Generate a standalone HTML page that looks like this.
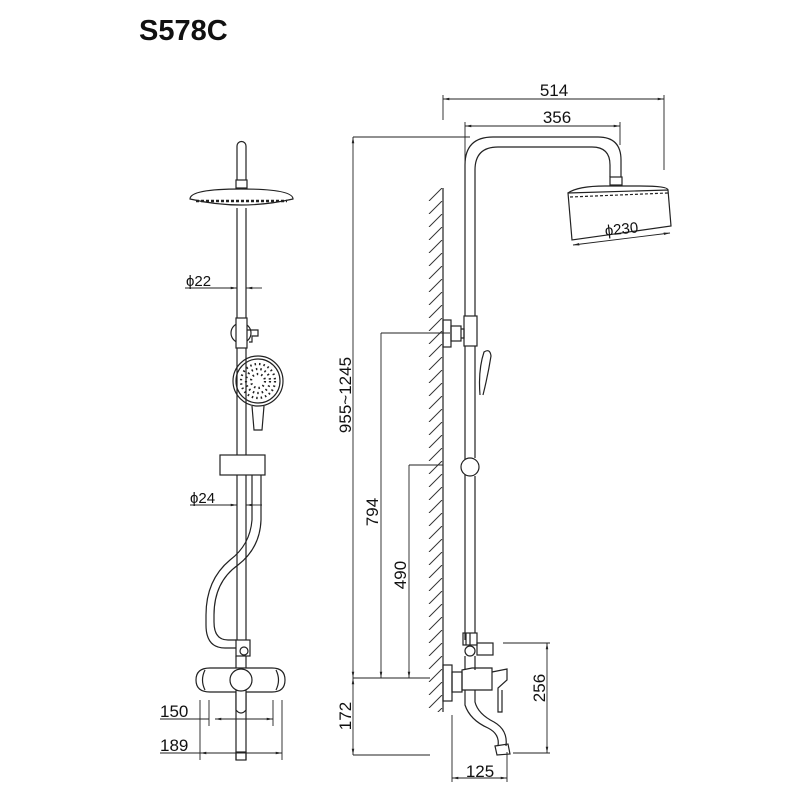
<!DOCTYPE html>
<html><head><style>body{margin:0;background:#fff}svg{display:block}text{font-family:"Liberation Sans",sans-serif;fill:#111}</style></head>
<body>
<svg width="800" height="800" viewBox="0 0 800 800" xmlns="http://www.w3.org/2000/svg">
<defs>
<marker id="a" viewBox="0 0 10 10" refX="10" refY="5" markerWidth="7" markerHeight="7" orient="auto-start-reverse"><path d="M0,3L10,5L0,7z" fill="#222"/></marker>
<pattern id="h" width="15" height="13" patternUnits="userSpaceOnUse" x="428" y="188"><path d="M1,13L14,0" stroke="#333" stroke-width="1"/></pattern>
</defs>
<text x="139" y="40" font-size="29" font-weight="bold">S578C</text>
<g fill="none" stroke="#222" stroke-width="1.2">
<!-- LEFT FIGURE -->
<path d="M237,180 V146 a4.5,4.5 0 0 1 9,0 V180"/>
<rect x="236" y="180" width="11" height="8"/>
<path d="M190,199 Q190,189 241,189 Q293,189 293,199 Q241,211 190,199z"/>
<path d="M196,201 H287" stroke-dasharray="3,2" stroke-width="2.5"/>
<path d="M237,208 V318 M246,208 V318"/>
<circle cx="241" cy="333" r="10"/>
<rect x="236" y="318" width="11" height="30" fill="#fff"/>
<path d="M247,330 H258 V336 H252 V342 H249"/>
<path d="M237,348 V650 M246,348 V455"/>
<circle cx="258" cy="381" r="25"/><circle cx="258" cy="381" r="22"/>
<g stroke-width="2.2" stroke-dasharray="1.5,3"><circle cx="258" cy="381" r="17"/><circle cx="258" cy="381" r="12"/><circle cx="258" cy="381" r="7"/></g>
<path d="M252,406 L254,430 H262 L264,406"/>
<rect x="220" y="455" width="45" height="20" fill="#fff"/>
<path d="M246,475 V650"/>
<path d="M252,475 V520 Q250,545 230,560 Q206,580 206,615 V625 Q206,648 225,648 H236"/>
<path d="M261,475 V520 Q260,548 238,565 Q214,582 214,615 V622 Q214,640 228,640 H236"/>
<rect x="236" y="640" width="14" height="16" fill="#fff"/>
<circle cx="244" cy="651" r="4"/>
<path d="M236,656 V760 M246,656 V760"/>
<path d="M210,668 Q196,668 196,680 Q196,692 210,692 H272 Q285,692 285,680 Q285,668 272,668 Z" fill="#fff"/>
<path d="M205,670 Q200,680 205,690 M276,670 Q281,680 276,690"/>
<path d="M236,690 V710 Q241,716 246,710 V690" fill="#fff"/>
<circle cx="241" cy="680" r="11" fill="#fff"/>
<rect x="236" y="752" width="10" height="8"/>
</g>
<g stroke="#222" stroke-width="0.9" fill="none">
<path d="M185,288 H237" marker-end="url(#a)"/><path d="M262,288 H246" marker-end="url(#a)"/>
<path d="M190,505 H237" marker-end="url(#a)"/><path d="M262,505 H246" marker-end="url(#a)"/>
<path d="M209,700 V726 M273,700 V726 M200,700 V760 M282,700 V760"/>
<path d="M160,719 H209"/><path d="M215,719 H273" marker-start="url(#a)" marker-end="url(#a)"/>
<path d="M160,753 H200"/><path d="M200,753 H282" marker-start="url(#a)" marker-end="url(#a)"/>
</g>
<text x="186" y="286" font-size="15">ϕ22</text>
<text x="190" y="503" font-size="15">ϕ24</text>
<text x="160" y="717" font-size="17">150</text>
<text x="160" y="751" font-size="17">189</text>

<!-- RIGHT FIGURE -->
<rect x="428" y="188" width="15" height="524" fill="url(#h)"/>
<path d="M443,188 V712" stroke="#222" stroke-width="1.2"/>
<g fill="none" stroke="#222" stroke-width="1.2">
<path d="M465,316 V165 Q465,137 493,137 H598 Q621,137 621,160 V177"/>
<path d="M475,316 V170 Q475,147 498,147 H592 Q610,147 610,165 V177"/>
<rect x="610" y="177" width="12" height="8"/>
<path d="M568,193 Q578,186 605,186 H640 Q668,186 668,190" />
<path d="M568,193 L668,190 L671,226 L572,240 Z" fill="#fff"/>
<path d="M570,197 L668,193" stroke-dasharray="3,2"/>
<rect x="443" y="320" width="8" height="27"/>
<rect x="451" y="326" width="10" height="15"/>
<path d="M461,329 H464 V338 H461"/>
<rect x="464" y="316" width="13" height="30"/>
<path d="M465,346 V640 M475,346 V458"/>
<path d="M480,395 Q478,370 484,352 Q490,348 491,356 Q488,375 483,395"/>
<circle cx="470" cy="467" r="9" fill="#fff"/>
<path d="M475,476 V633"/>
<rect x="463" y="633" width="14" height="12"/>
<path d="M466,633 V645 M470,633 V645"/>
<circle cx="470" cy="651" r="5"/>
<rect x="477" y="643" width="16" height="12"/>
<path d="M465,656 V670 M475,656 V670"/>
<rect x="443" y="665" width="9" height="36"/>
<rect x="452" y="672" width="10" height="20"/>
<path d="M462,670 L472,668 H492 V690 H472 L462,690 Z"/>
<path d="M492,672 L507,669 V680 L498,688 V712 H502 V690"/>
<path d="M465,690 V705 Q470,720 488,728 Q500,734 498,746 M475,690 V702 Q478,714 494,722 Q508,730 506,746"/>
<path d="M495,746 L508,744 L510,754 L497,755 Z"/>
</g>
<g stroke="#222" stroke-width="0.9" fill="none">
<path d="M443,95 V120 M664,95 V170"/>
<path d="M443,99 H664" marker-start="url(#a)" marker-end="url(#a)"/>
<path d="M465,122 V185 M620,122 V145"/>
<path d="M465,126 H620" marker-start="url(#a)" marker-end="url(#a)"/>
<path d="M573,245 L670,233" marker-start="url(#a)" marker-end="url(#a)"/>
<path d="M353,137 H470 M353,678 H430 M353,755 H430"/>
<path d="M353,137 V678" marker-start="url(#a)" marker-end="url(#a)"/>
<path d="M353,678 V755" marker-start="url(#a)" marker-end="url(#a)"/>
<path d="M381,333 H450"/><path d="M381,333 V678" marker-end="url(#a)"/>
<path d="M409,465 H443"/><path d="M409,465 V678" marker-end="url(#a)"/>
<path d="M452,715 V782 M507,752 V782"/>
<path d="M452,778 H507" marker-start="url(#a)" marker-end="url(#a)"/>
<path d="M503,643 H550 M513,753 H550"/>
<path d="M547,643 V753" marker-start="url(#a)" marker-end="url(#a)"/>
</g>
<text x="554" y="96" font-size="17" text-anchor="middle">514</text>
<text x="557" y="123" font-size="17" text-anchor="middle">356</text>
<text x="622" y="234" font-size="15" text-anchor="middle" transform="rotate(-6 622 234)">ϕ230</text>
<text font-size="17" text-anchor="middle" transform="translate(351,395) rotate(-90)">955~1245</text>
<text font-size="17" text-anchor="middle" transform="translate(378,512) rotate(-90)">794</text>
<text font-size="17" text-anchor="middle" transform="translate(406,575) rotate(-90)">490</text>
<text font-size="17" text-anchor="middle" transform="translate(351,716) rotate(-90)">172</text>
<text font-size="17" text-anchor="middle" transform="translate(545,688) rotate(-90)">256</text>
<text x="480" y="777" font-size="17" text-anchor="middle">125</text>
</svg>
</body></html>
